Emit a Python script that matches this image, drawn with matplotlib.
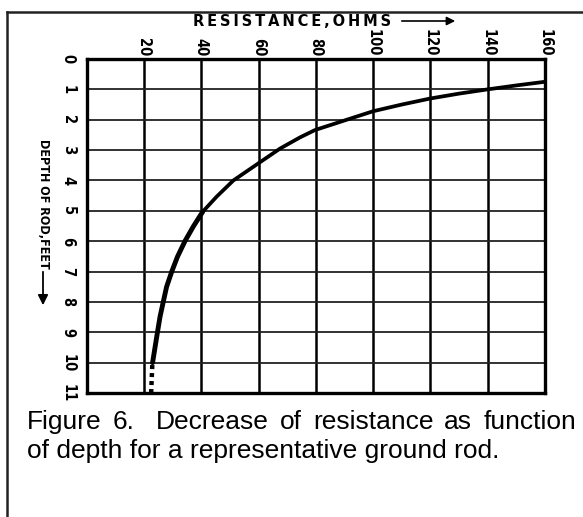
import matplotlib
matplotlib.use("Agg")
import matplotlib.pyplot as plt
from matplotlib.lines import Line2D
from matplotlib.patches import FancyArrowPatch

# Data (resistance in ohms vs depth in feet)
resistance_upper = [160, 150, 140, 130, 120, 110, 100, 90.8, 79.7, 74.5, 67.5, 60.5, 51.2, 45.4, 40.5]
depth_upper = [0.75, 0.87, 1.0, 1.14, 1.3, 1.5, 1.72, 2.0, 2.34, 2.58, 2.95, 3.4, 4.0, 4.53, 5.03]
resistance_lower = [40.5, 37.2, 34.3, 31.7, 29.7, 27.9, 26.7, 25.6, 24.7, 23.8, 23.0]
depth_lower = [5.03, 5.52, 6.0, 6.51, 7.0, 7.5, 8.01, 8.49, 9.0, 9.53, 10.0]
dotted_resistance = [22.9, 22.5]
dotted_depth = [10.08, 11.0]
x_ticks = [0, 20, 40, 60, 80, 100, 120, 140, 160]
x_tick_labels = ["", "20", "40", "60", "80", "100", "120", "140", "160"]
y_ticks = list(range(0, 12))
y_tick_labels = [str(v) for v in y_ticks]
caption_line1 = "Figure 6.  Decrease of resistance as function"
caption_line2 = "of depth for a representative ground rod."

W, H = 583, 517
fig = plt.figure(figsize=(W / 100, H / 100), dpi=100)
fig.patch.set_facecolor("white")

def fx(px):
    return px / W

def fy(py):
    return 1 - py / H

ax = fig.add_axes([fx(86.7), fy(393), fx(545) - fx(86.7), fy(59) - fy(393)])
ax.set_xlim(0, 160)
ax.set_ylim(11, 0)
ax.set_xticks(x_ticks)
ax.set_xticklabels(x_tick_labels)
ax.set_yticks(y_ticks)
ax.set_yticklabels(y_tick_labels)
ax.xaxis.tick_top()
ax.tick_params(axis="both", length=0)
ax.tick_params(axis="x", pad=2)
ax.tick_params(axis="y", pad=8)
for lab in ax.get_xticklabels():
    lab.set_rotation(-90)
    lab.set_fontweight("bold")
    lab.set_fontsize(10.5)
    lab.set_fontstretch("condensed")
    lab.set_va("bottom")
    lab.set_ha("center")
for lab in ax.get_yticklabels():
    lab.set_rotation(-90)
    lab.set_fontweight("bold")
    lab.set_fontsize(10.5)
    lab.set_fontstretch("condensed")
    lab.set_va("center")
    lab.set_ha("right")

ax.xaxis.grid(True, color="black", linewidth=1.8)
ax.yaxis.grid(True, color="#222222", linewidth=1.3)
for s in ax.spines.values():
    s.set_linewidth(2.4)
    s.set_color("black")

ax.plot(resistance_upper, depth_upper, color="black", linewidth=2.7,
        solid_capstyle="round", solid_joinstyle="round", zorder=5)
ax.plot(resistance_lower, depth_lower, color="black", linewidth=3.5,
        solid_capstyle="round", solid_joinstyle="round", zorder=5)
ax.plot(dotted_resistance, dotted_depth, color="black", linewidth=3.2,
        linestyle=(0, (0.9, 0.9)), zorder=5)

# Outer frame (top and left edges visible)
fig.add_artist(Line2D([fx(7), fx(7)], [0, fy(12)], color="#222222", linewidth=1.8))
fig.add_artist(Line2D([fx(7), 1], [fy(12), fy(12)], color="#222222", linewidth=1.8))

# Axis title on top
title = "\u2009".join("RESISTANCE,OHMS")
fig.text(fx(193), fy(21), title, fontsize=10.5, fontweight="bold",
         ha="left", va="center", family="DejaVu Sans")
fig.add_artist(FancyArrowPatch((fx(399), fy(21)), (fx(458), fy(21)),
                               transform=fig.transFigure, arrowstyle="-|>,head_length=5,head_width=2.5",
                               color="black", linewidth=1.2, mutation_scale=1))

# Y axis label
fig.text(fx(43), fy(203.5), "DEPTH OF ROD,FEET", fontsize=9, fontweight="bold",
         ha="center", va="center", rotation=-90, family="DejaVu Sans", fontstretch="condensed")
fig.add_artist(FancyArrowPatch((fx(43), fy(269)), (fx(43), fy(308)),
                               transform=fig.transFigure, arrowstyle="-|>,head_length=6,head_width=3",
                               color="black", linewidth=1.3, mutation_scale=1))

# Caption: first line justified (all spaces stretched equally), second line left aligned
cap_kw = dict(fontsize=19, family="Liberation Sans", va="baseline", ha="left")
fig.canvas.draw()
renderer = fig.canvas.get_renderer()
tokens = caption_line1.split(" ")  # empty tokens come from double spaces
words = []
gaps = []
pending = 0
for tok in tokens:
    if tok == "":
        pending += 1
        continue
    if words:
        gaps.append(1 + pending)
    pending = 0
    words.append(tok)
texts = [fig.text(0, fy(429), w, **cap_kw) for w in words]
widths = [t.get_window_extent(renderer).width for t in texts]
left_px, right_px = 27, 576
unit = ((right_px - left_px) - sum(widths)) / sum(gaps)
xpos = left_px
for i, t in enumerate(texts):
    t.set_x(fx(xpos))
    xpos += widths[i]
    if i < len(gaps):
        xpos += unit * gaps[i]
fig.text(fx(27), fy(458), caption_line2, **cap_kw)

fig.savefig("out.png", dpi=100, facecolor="white")
